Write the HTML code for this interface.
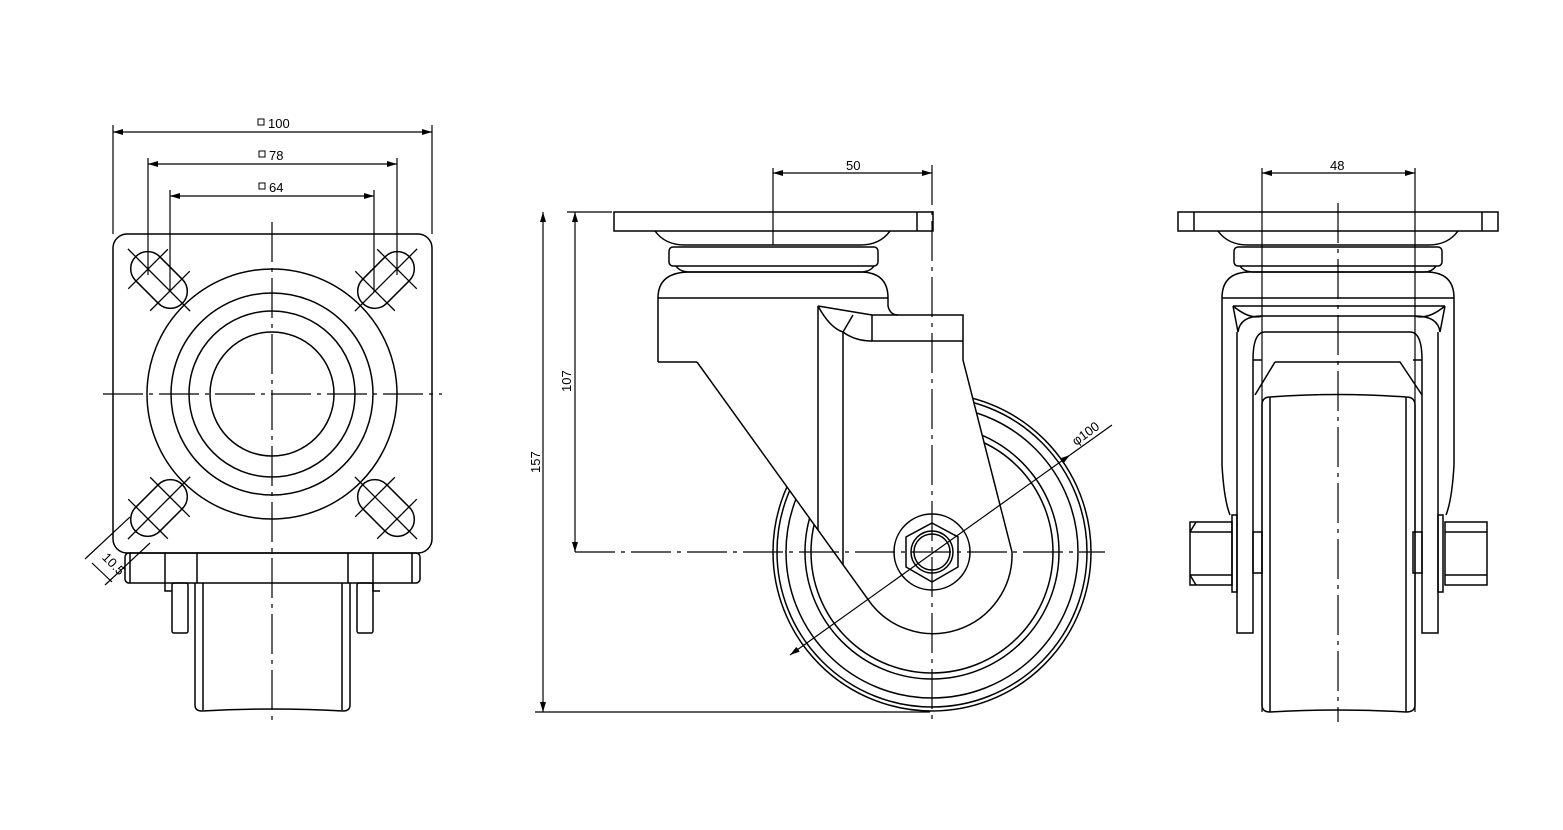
<!DOCTYPE html>
<html><head><meta charset="utf-8"><style>
html,body{margin:0;padding:0;background:#fff;}
svg{display:block;}
text{font-family:"Liberation Sans",sans-serif;font-size:13px;fill:#000;}
</style></head><body>
<svg width="1563" height="830" viewBox="0 0 1563 830" xmlns="http://www.w3.org/2000/svg">
<defs>
<marker id="ar" viewBox="0 0 10 6" refX="10" refY="3" markerWidth="10" markerHeight="6" orient="auto-start-reverse" markerUnits="userSpaceOnUse"><path d="M0,0L10,3L0,6z" fill="#000"/></marker>
<g id="slot"><rect x="-33" y="-17" width="66" height="34" rx="17" fill="none" stroke="#000" stroke-width="1.5"/><path d="M-15.5,-28V28M15.5,-28V28M-44,0H44" stroke="#000" stroke-width="1.3"/></g>
</defs>
<g fill="none" stroke="#000" stroke-width="1.5">
<!-- LEFT VIEW -->
<rect x="113" y="234" width="319" height="319" rx="14"/>
<circle cx="272" cy="394" r="125"/><circle cx="272" cy="394" r="101"/><circle cx="272" cy="394" r="83"/><circle cx="272" cy="394" r="62"/>
<rect x="125" y="553" width="295" height="30" rx="4"/>
<path d="M130,553V583M165,553V591H172M197,553V583M348,553V583M373,553V591H380M412,553V583"/>
<rect x="172" y="583" width="16" height="50" rx="2"/><rect x="357" y="583" width="16" height="50" rx="2"/>
<path d="M195,583V705Q195,711 202,711Q272,707 343,711Q350,711 350,705V583M203,583V710M342,583V710"/>
</g>
<g transform="translate(159,280) rotate(45)"><use href="#slot"/></g>
<g transform="translate(386,280) rotate(-45)"><use href="#slot"/></g>
<g transform="translate(159,508) rotate(-45)"><use href="#slot"/></g>
<g transform="translate(386,508) rotate(45)"><use href="#slot"/></g>
<g stroke="#000" stroke-width="1.2" fill="none">
<path d="M103,394H442" stroke-dasharray="40,6,4,6"/>
<path d="M272,222V720" stroke-dasharray="40,6,4,6"/>
<path d="M113,125V234M432,125V234M148,158V275M397,158V275M170,190V292M374,190V292"/>
<path d="M113,132H432" marker-start="url(#ar)" marker-end="url(#ar)"/>
<path d="M148,164H397" marker-start="url(#ar)" marker-end="url(#ar)"/>
<path d="M170,196H374" marker-start="url(#ar)" marker-end="url(#ar)"/>
<path d="M85,559L130,517M105,585L150,543M92,563L112,582" />
</g>
<g font-size="12">
<rect x="258" y="119" width="6" height="6" fill="none" stroke="#000"/><text x="268" y="128">100</text>
<rect x="259" y="151" width="6" height="6" fill="none" stroke="#000"/><text x="269" y="160">78</text>
<rect x="259" y="183" width="6" height="6" fill="none" stroke="#000"/><text x="269" y="192">64</text>
<text x="94" y="560" transform="rotate(45 100 568)">10.5</text>
</g>

<!-- MIDDLE VIEW -->
<g fill="none" stroke="#000" stroke-width="1.5">
<circle cx="932" cy="552" r="159"/><circle cx="932" cy="552" r="155"/><circle cx="932" cy="552" r="146"/><circle cx="932" cy="552" r="127"/><circle cx="932" cy="552" r="121"/>
<path d="M697,362L867,598A79,79 0 0 0 1012,552L963,360V315H872V341H963" fill="#fff"/>
<path d="M658,362H697"/>
<rect x="614" y="212" width="319" height="19"/><path d="M917,212V231"/>
<path d="M655,231Q665,245 685,245H860Q880,245 890,231"/>
<rect x="669" y="247" width="209" height="19" rx="4"/>
<path d="M676,266Q680,272 690,272H860Q870,272 874,266"/>
<path d="M658,362V298Q658,272 690,272H860Q888,272 888,298V306Q890,315 898,315"/>
<path d="M658,298H888"/>
<path d="M818,306V530M843,332V565M818,306L872,315M818,306Q830,328 843,332Q855,341 872,341M843,332L853,315"/>
<circle cx="932" cy="552" r="38" fill="#fff"/>
<polygon points="932,523 958,537 958,567 932,582 906,567 906,537"/>
<circle cx="932" cy="552" r="21"/><circle cx="932" cy="552" r="18"/>
</g>
<g stroke="#000" stroke-width="1.2" fill="none">
<path d="M575,552H1105" stroke-dasharray="40,6,4,6"/>
<path d="M932,165V722" stroke-dasharray="40,6,4,6"/>
<path d="M773,168V245"/>
<path d="M773,173H932" marker-start="url(#ar)" marker-end="url(#ar)"/>
<path d="M567,212H612M535,712H930"/>
<path d="M575,212V552" marker-start="url(#ar)" marker-end="url(#ar)"/>
<path d="M543,212V712" marker-start="url(#ar)" marker-end="url(#ar)"/>
<path d="M790,655L1070,455" marker-start="url(#ar)" marker-end="url(#ar)"/>
<path d="M1070,455L1112,425"/>
</g>
<text x="846" y="170" font-size="12">50</text>
<text x="0" y="0" font-size="12" transform="translate(571,392) rotate(-90)">107</text>
<text x="0" y="0" font-size="12" transform="translate(540,473) rotate(-90)">157</text>
<text x="0" y="0" font-size="12" transform="translate(1076,446) rotate(-36)">φ100</text>

<!-- RIGHT VIEW -->
<g fill="none" stroke="#000" stroke-width="1.5">
<rect x="1178" y="212" width="320" height="19"/><path d="M1194,212V231M1482,212V231"/>
<path d="M1218,231Q1228,245 1248,245H1428Q1448,245 1458,231"/>
<rect x="1234" y="247" width="208" height="19" rx="4"/>
<path d="M1240,266Q1244,272 1254,272H1424Q1432,272 1436,266"/>
<path d="M1222,298Q1222,272 1250,272H1426Q1454,272 1454,298V465Q1452,500 1446,515M1222,298V465Q1224,500 1230,515M1222,298H1454M1233,306H1445M1233,306L1238,332M1445,306L1440,332M1233,306Q1250,320 1262,316M1445,306Q1428,320 1415,316M1238,332Q1240,316 1262,316H1415Q1438,316 1440,332"/>
<path d="M1237,332V633H1253V360Q1253,332 1265,332H1410Q1422,332 1422,360V633H1438V332"/>
<path d="M1253,360H1262M1413,360H1422"/>
<path d="M1275,362H1400L1422,395M1275,362L1255,395"/>
<path d="M1262,405Q1262,397 1270,397Q1338,392 1406,397Q1415,397 1415,405V705Q1415,712 1406,712Q1338,708 1270,712Q1262,712 1262,705Z" fill="#fff"/>
<path d="M1270,397V712M1406,397V712"/>
<rect x="1190" y="522" width="42" height="63"/><path d="M1190,532H1232M1190,575H1232M1196,522L1190,532M1196,585L1190,575"/>
<rect x="1232" y="515" width="5" height="77"/>
<rect x="1253" y="532" width="9" height="41"/>
<rect x="1445" y="522" width="42" height="63"/><path d="M1445,532H1487M1445,575H1487"/>
<rect x="1438" y="515" width="5" height="77"/>
<rect x="1413" y="532" width="9" height="41"/>
</g>
<g stroke="#000" stroke-width="1.2" fill="none">
<path d="M1338,203V722" stroke-dasharray="40,6,4,6"/>
<path d="M1262,168V712M1415,168V712"/>
<path d="M1262,173H1415" marker-start="url(#ar)" marker-end="url(#ar)"/>
</g>
<text x="1330" y="170" font-size="12">48</text>
</svg>
</body></html>
